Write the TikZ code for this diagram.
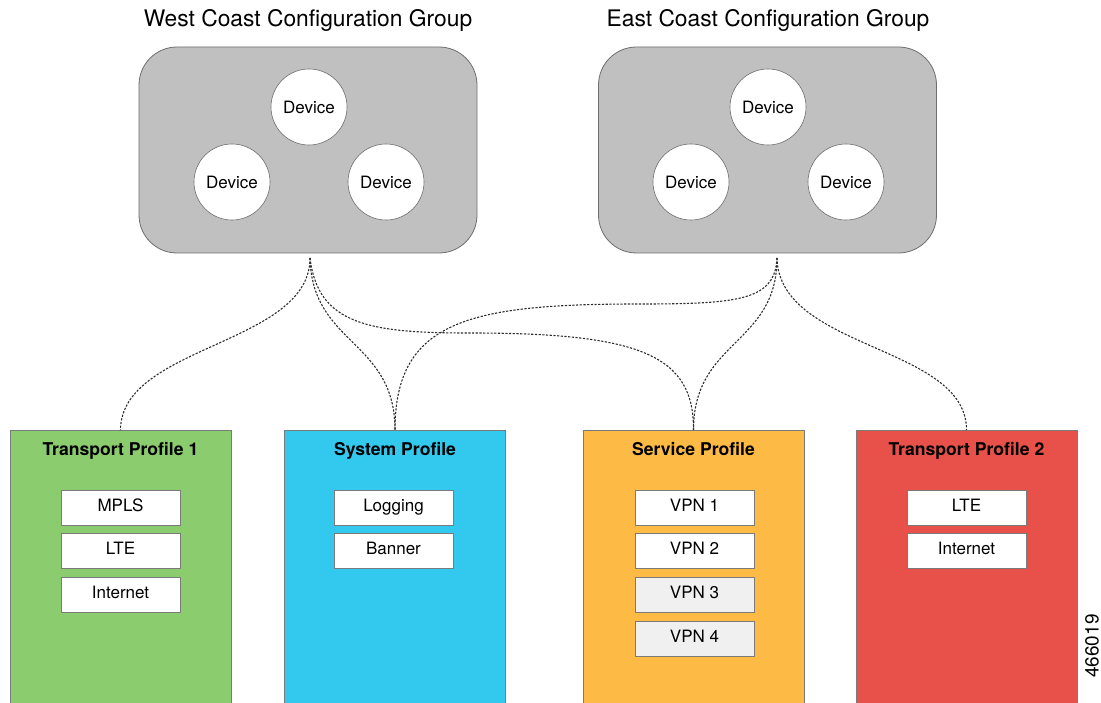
\documentclass[tikz,border=0pt]{standalone}
\usepackage{fontspec}
\setmainfont{TeX Gyre Heros}
\usetikzlibrary{positioning}

\definecolor{groupfill}{HTML}{C0C0C0}
\definecolor{groupline}{HTML}{6E6E6E}
\definecolor{boxline}{HTML}{7A7A7A}
\definecolor{transportgreen}{HTML}{8BCC6E}
\definecolor{systemblue}{HTML}{33C9EE}
\definecolor{serviceorange}{HTML}{FDBA45}
\definecolor{transportred}{HTML}{E8504A}
\definecolor{itemgray}{HTML}{F0F0F0}
\definecolor{linkgray}{HTML}{2E2E2E}

\tikzset{
  grouptitle/.style={font=\fontsize{22.8}{26}\selectfont, text=black},
  groupbox/.style={draw=groupline, fill=groupfill, line width=0.8pt,
    rounded corners=38pt, minimum width=338pt, minimum height=206pt},
  device/.style={circle, draw=groupline, fill=white, line width=0.6pt,
    minimum size=76pt, inner sep=0pt, font=\fontsize{17}{20}\selectfont},
  profile/.style={draw=boxline, line width=0.7pt, anchor=north,
    minimum width=221pt, minimum height=290pt},
  profiletitle/.style={font=\bfseries\fontsize{17.6}{20}\selectfont,
    text height=12.6pt, text depth=4.4pt, inner sep=0pt},
  item/.style={draw=boxline, fill=white, line width=0.6pt,
    minimum width=119pt, minimum height=35pt, inner sep=0pt,
    text height=12.2pt, text depth=4.2pt,
    font=\fontsize{17}{20}\selectfont},
  itemgrey/.style={item, fill=itemgray},
  link/.style={draw=linkgray, line width=1.1pt, dash pattern=on 2.2pt off 1.5pt},
}

\begin{document}
\begin{tikzpicture}[x=1pt, y=-1pt]
  \useasboundingbox (0,0) rectangle (1101,703);
  \clip (0,0) rectangle (1101,703);

  % configuration groups
  \node[grouptitle] (wtitle) at (308,20) {West Coast Configuration Group};
  \node[grouptitle] (etitle) at (768,20) {East Coast Configuration Group};

  \node[groupbox] (west) at (308,150) {};
  \node[groupbox] (east) at (767.5,150) {};

  \node[device] (w1) at (309,107) {Device};
  \node[device] (w2) at (232,182) {Device};
  \node[device] (w3) at (386,182) {Device};

  \node[device] (e1) at (768,107) {Device};
  \node[device] (e2) at (691,182) {Device};
  \node[device] (e3) at (846,182) {Device};

  \coordinate (wsrc) at (310,258);
  \coordinate (esrc) at (777,258);

  % feature profiles
  \node[profile, fill=transportgreen] (tp1) at (120.5,430) {};
  \node[profile, fill=systemblue]     (sys) at (395,430) {};
  \node[profile, fill=serviceorange]  (svc) at (693.5,430) {};
  \node[profile, fill=transportred]   (tp2) at (966.5,430) {};

  \node[profiletitle] (tp1t) at (120.5,451) {Transport Profile 1};
  \node[profiletitle] (syst) at (395,451) {System Profile};
  \node[profiletitle] (svct) at (693.5,451) {Service Profile};
  \node[profiletitle] (tp2t) at (966.5,451) {Transport Profile 2};

  \node[item] (mpls)  at (120.5,507.5) {MPLS};
  \node[item] (lte1)  at (120.5,550.5) {LTE};
  \node[item] (inet1) at (120.5,594.5) {Internet};

  \node[item] (log)   at (393.5,507.5) {Logging};
  \node[item] (ban)   at (393.5,550.5) {Banner};

  \node[item]     (vpn1) at (694.5,507.5) {VPN 1};
  \node[item]     (vpn2) at (694.5,550.5) {VPN 2};
  \node[itemgrey] (vpn3) at (694.5,594.5) {VPN 3};
  \node[itemgrey] (vpn4) at (694.5,638.5) {VPN 4};

  \node[item] (lte2)  at (966.5,507.5) {LTE};
  \node[item] (inet2) at (966.5,550.5) {Internet};

  % group-to-profile links
  \draw[link] (wsrc) .. controls (310,345) and (121,345) .. (tp1.north);
  \draw[link] (wsrc) .. controls (312,345) and (395,340) .. (sys.north);
  \draw[link] (wsrc) .. controls (318,325) and (370,333) .. (470,333)
                     .. controls (640,333) and (694,355) .. (svc.north);
  \draw[link] (esrc) .. controls (775,300) and (740,304) .. (640,304)
                     .. controls (470,304) and (395,320) .. (sys.north);
  \draw[link] (esrc) .. controls (777,345) and (693.5,340) .. (svc.north);
  \draw[link] (esrc) .. controls (779,350) and (966.5,345) .. (tp2.north);

  % figure number
  \node[rotate=90, font=\fontsize{19}{22}\selectfont] (fignum) at (1092,646) {466019};
\end{tikzpicture}
\end{document}
